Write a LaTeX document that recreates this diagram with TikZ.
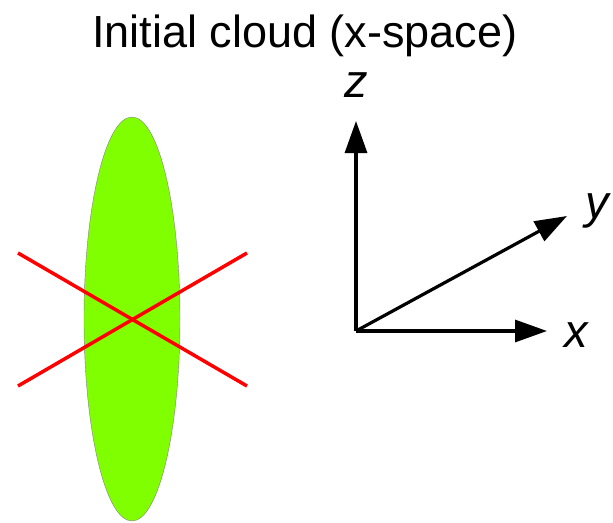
\documentclass[tikz,border=0pt]{standalone}
\usepackage{fontspec}
\setmainfont{Liberation Sans}
\usetikzlibrary{arrows.meta,shapes.geometric}
\definecolor{cloudgreen}{HTML}{80FF00}
\begin{document}
\begin{tikzpicture}[x=1pt, y=-1pt,
    cloud/.style={ellipse, draw=gray, fill=cloudgreen, minimum width=96pt,
                  minimum height=404pt, inner sep=0pt},
    cross/.style={red, line width=3.5pt},
    axis/.style={-{Triangle[length=32pt,width=22pt]}, line width=3.2pt},
    axlabel/.style={anchor=base, font=\fontsize{47}{50}\selectfont\itshape}
]
    \useasboundingbox (0,0) rectangle (613,522);

    \node[anchor=base, font=\fontsize{45}{50}\selectfont] (title) at (305,47)
        {Initial cloud (x-space)};

    % the cloud and its cross
    \node[cloud] (cloud) at (132,319) {};
    \coordinate (c1) at (18,253);
    \coordinate (c2) at (247,386);
    \coordinate (c3) at (18,386);
    \coordinate (c4) at (247,253);
    \draw[cross] (c1) -- (c2);
    \draw[cross] (c3) -- (c4);

    % axes
    \coordinate (origin) at (356,331);
    \coordinate (ztip) at (356,121);
    \coordinate (xtip) at (547,331);
    \coordinate (ytip) at (567,216);
    \draw[axis] (origin) -- (ztip);
    \draw[axis] (origin) -- (xtip);
    \draw[axis] (origin) -- (ytip);
    \node[axlabel] (zlabel) at (356,97) {z};
    \node[axlabel] (ylabel) at (597,218) {y};
    \node[axlabel] (xlabel) at (576,347) {x};
\end{tikzpicture}
\end{document}
